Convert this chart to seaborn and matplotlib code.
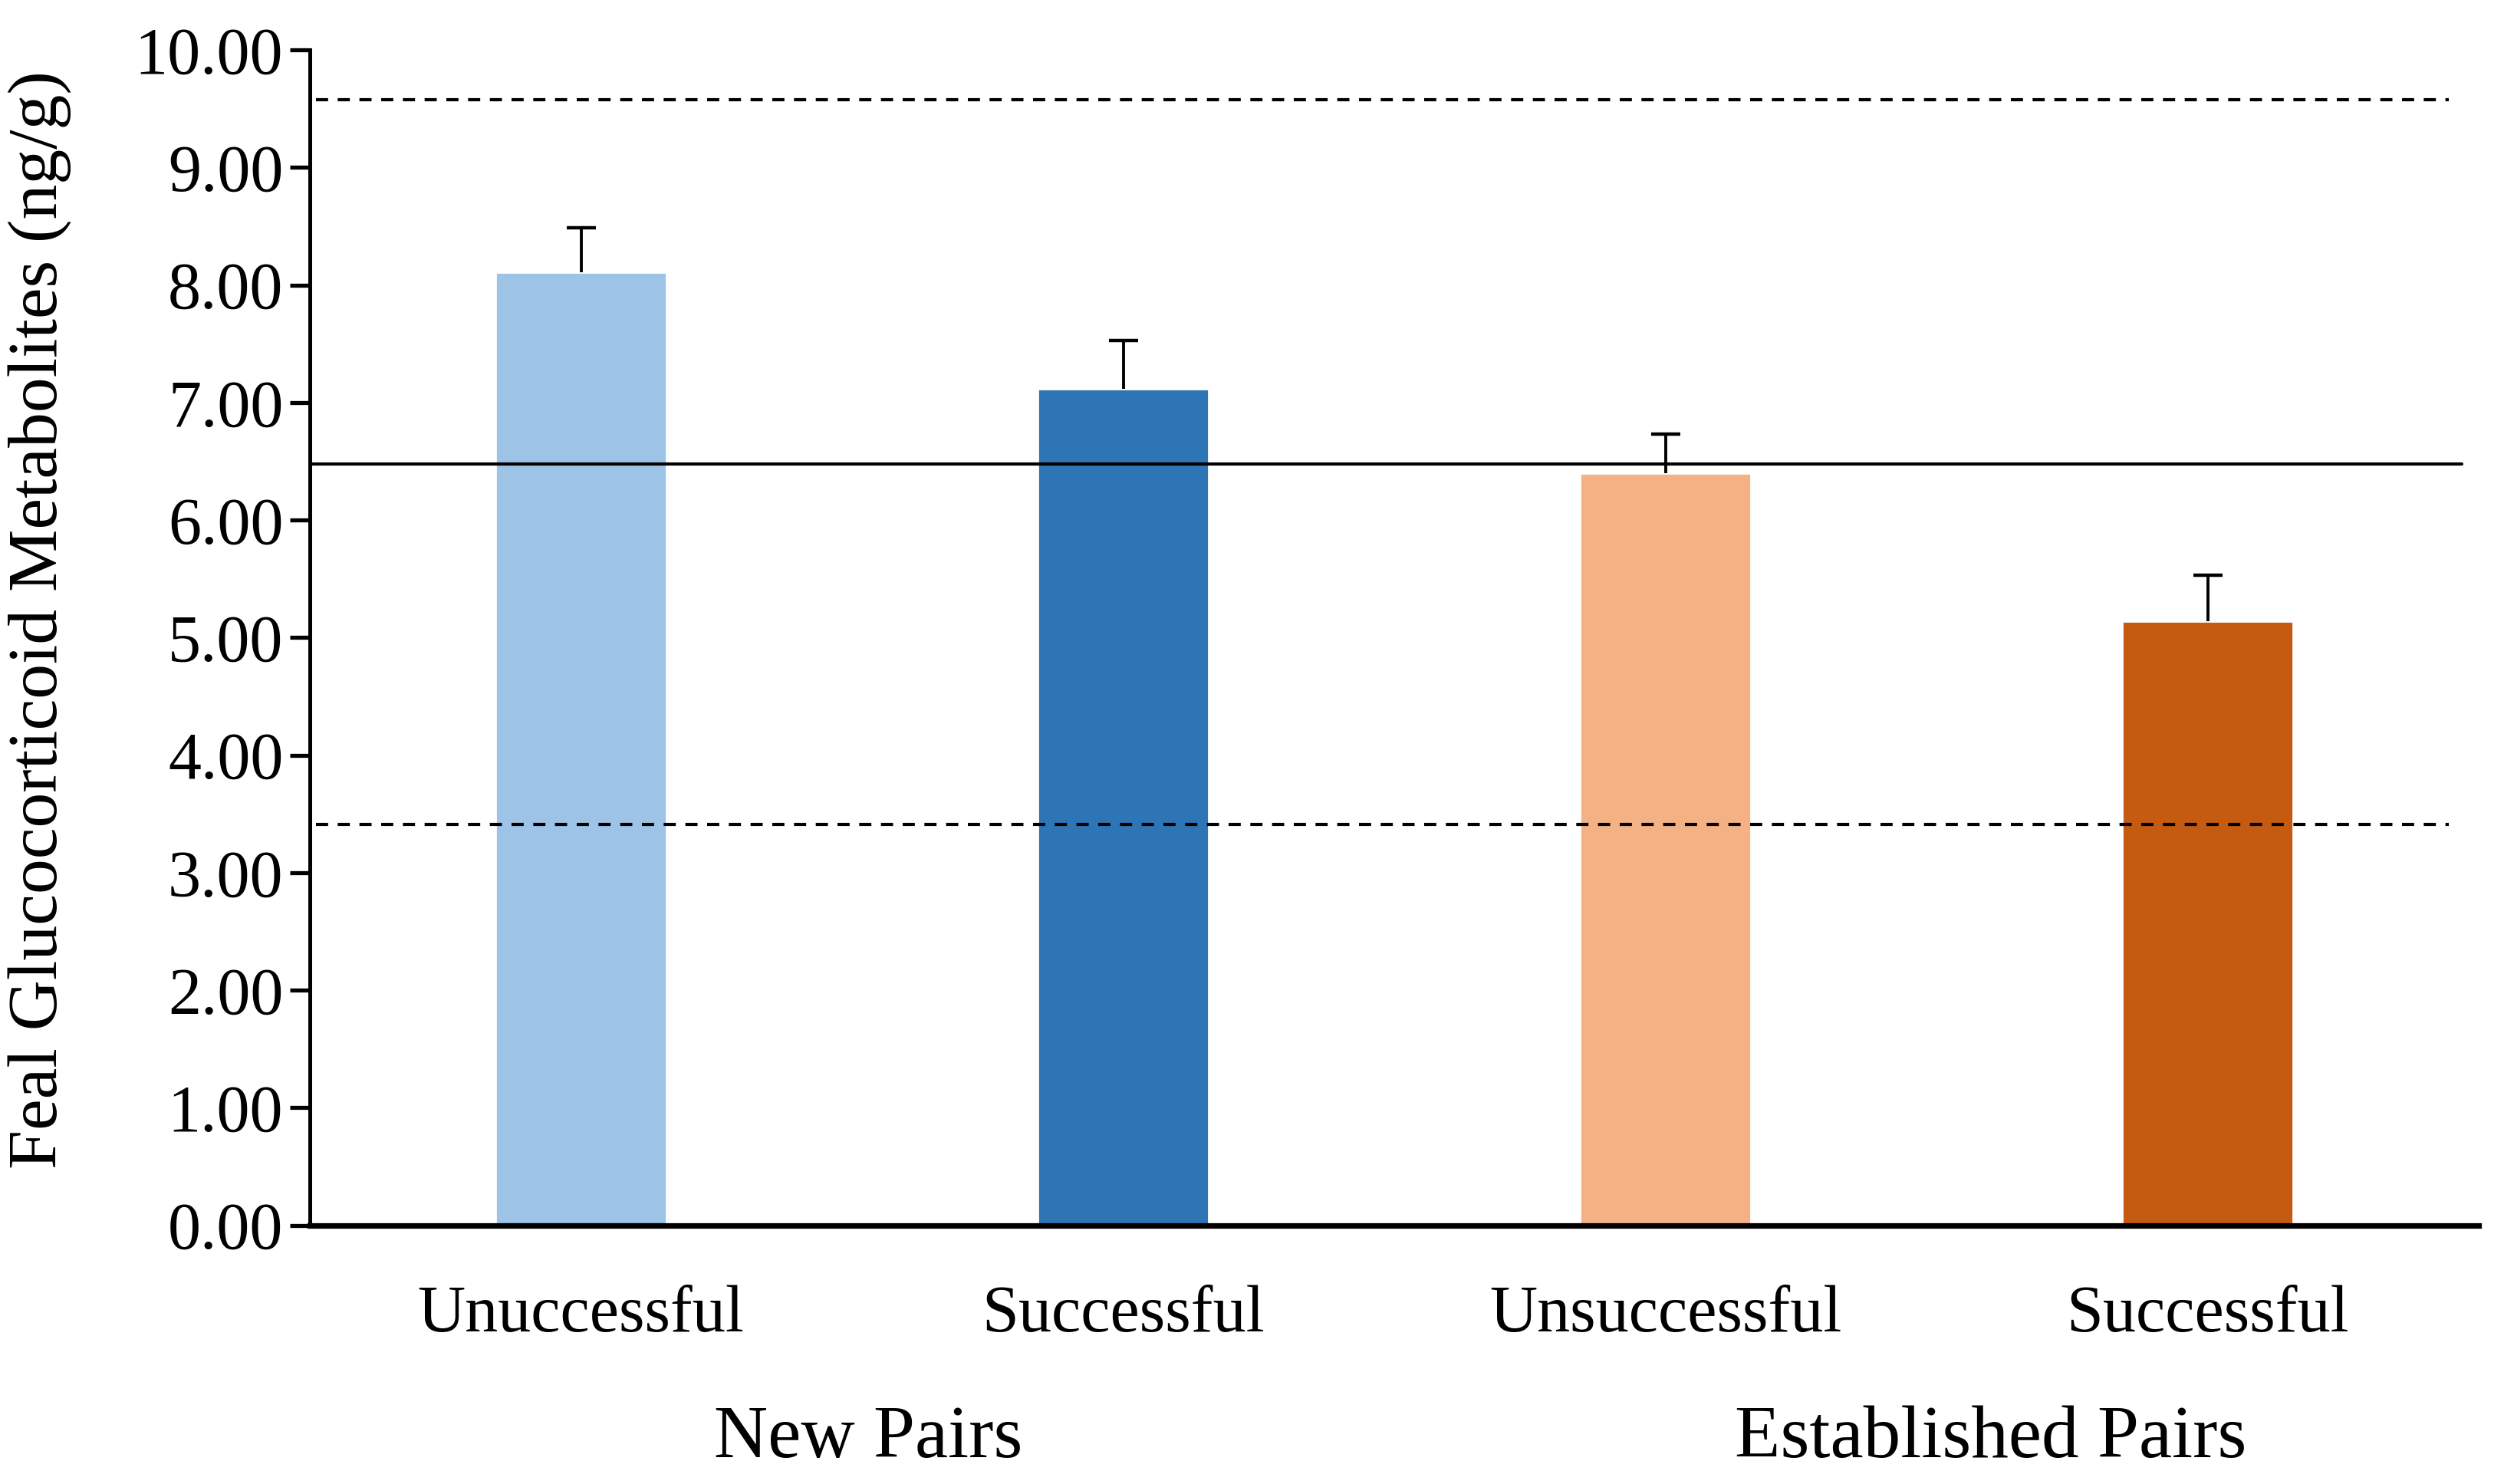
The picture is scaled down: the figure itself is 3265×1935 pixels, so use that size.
import seaborn as sns
import matplotlib.pyplot as plt
import pandas as pd

# values
categories = ['Unuccessful', 'Successful', 'Unsuccessful', 'Successful']
bar_ids = ['new_unsucc', 'new_succ', 'est_unsucc', 'est_succ']
means = [8.11, 7.12, 6.40, 5.14]
errors = [0.38, 0.41, 0.33, 0.39]
groups = ['New Pairs', 'Established Pairs']
group_pos = [0.53, 2.60]
solid_ref = [6.48]
dashed_ref = [9.58, 3.41]

custom_colors = {
    'new_unsucc': '#9DC3E6',
    'new_succ': '#2E75B6',
    'est_unsucc': '#F4B183',
    'est_succ': '#C55A11',
}

df = pd.DataFrame({'Bar': bar_ids, 'Mean': means, 'Err': errors})

sns.set_style('ticks', {'axes.edgecolor': 'black', 'text.color': 'black',
                        'axes.labelcolor': 'black', 'xtick.color': 'black',
                        'ytick.color': 'black'})
plt.rcParams['font.family'] = ['Liberation Serif', 'DejaVu Serif']
fs = 31

fig = plt.figure(figsize=(16.33, 9.675), dpi=200)
ax = fig.add_axes([0.1237, 0.1743, 0.866, 0.792])

sns.barplot(x='Bar', y='Mean', data=df, hue='Bar', palette=custom_colors,
            errorbar=None, width=0.315, legend=False, ax=ax, saturation=1)

# upper error bars only (hide the lower cap)
eb = ax.errorbar(x=range(len(df)), y=df['Mean'], yerr=[[0] * len(df), df['Err']],
                 fmt='none', ecolor='black', elinewidth=1.4, capsize=6.7, capthick=1.6)
eb[1][0].set_visible(False)

# reference lines
for y in solid_ref:
    ax.axhline(y, xmin=0, xmax=0.992, color='black', lw=1.5, zorder=3)
for y in dashed_ref:
    ax.axhline(y, xmin=0.003, xmax=0.986, color='black', lw=1.5,
               linestyle=(0, (3.8, 3)), zorder=3)

ax.set_xlim(-0.5, 3.5)
ax.set_ylim(0, 10)
ax.set_yticks(range(0, 11))
ax.set_yticklabels([f'{v:.2f}' for v in range(0, 11)], fontsize=fs)
ax.set_xticks(range(len(categories)))
ax.set_xticklabels(categories, fontsize=fs)
ax.tick_params(axis='x', length=0, pad=28)
ax.tick_params(axis='y', length=9.5, width=1.9, pad=3)

ax.set_xlabel('')
ax.set_ylabel('Feal Glucocorticoid Metabolites (ng/g)', fontsize=fs + 2)
ax.yaxis.set_label_coords(-0.110, 0.515)

sns.despine(ax=ax)
ax.spines['left'].set_linewidth(1.8)
ax.spines['bottom'].set_linewidth(2.6)

for name, xpos in zip(groups, group_pos):
    ax.text(xpos, -0.197, name, transform=ax.get_xaxis_transform(),
            ha='center', va='baseline', fontsize=fs + 4)

plt.savefig('out.png', dpi=200)
